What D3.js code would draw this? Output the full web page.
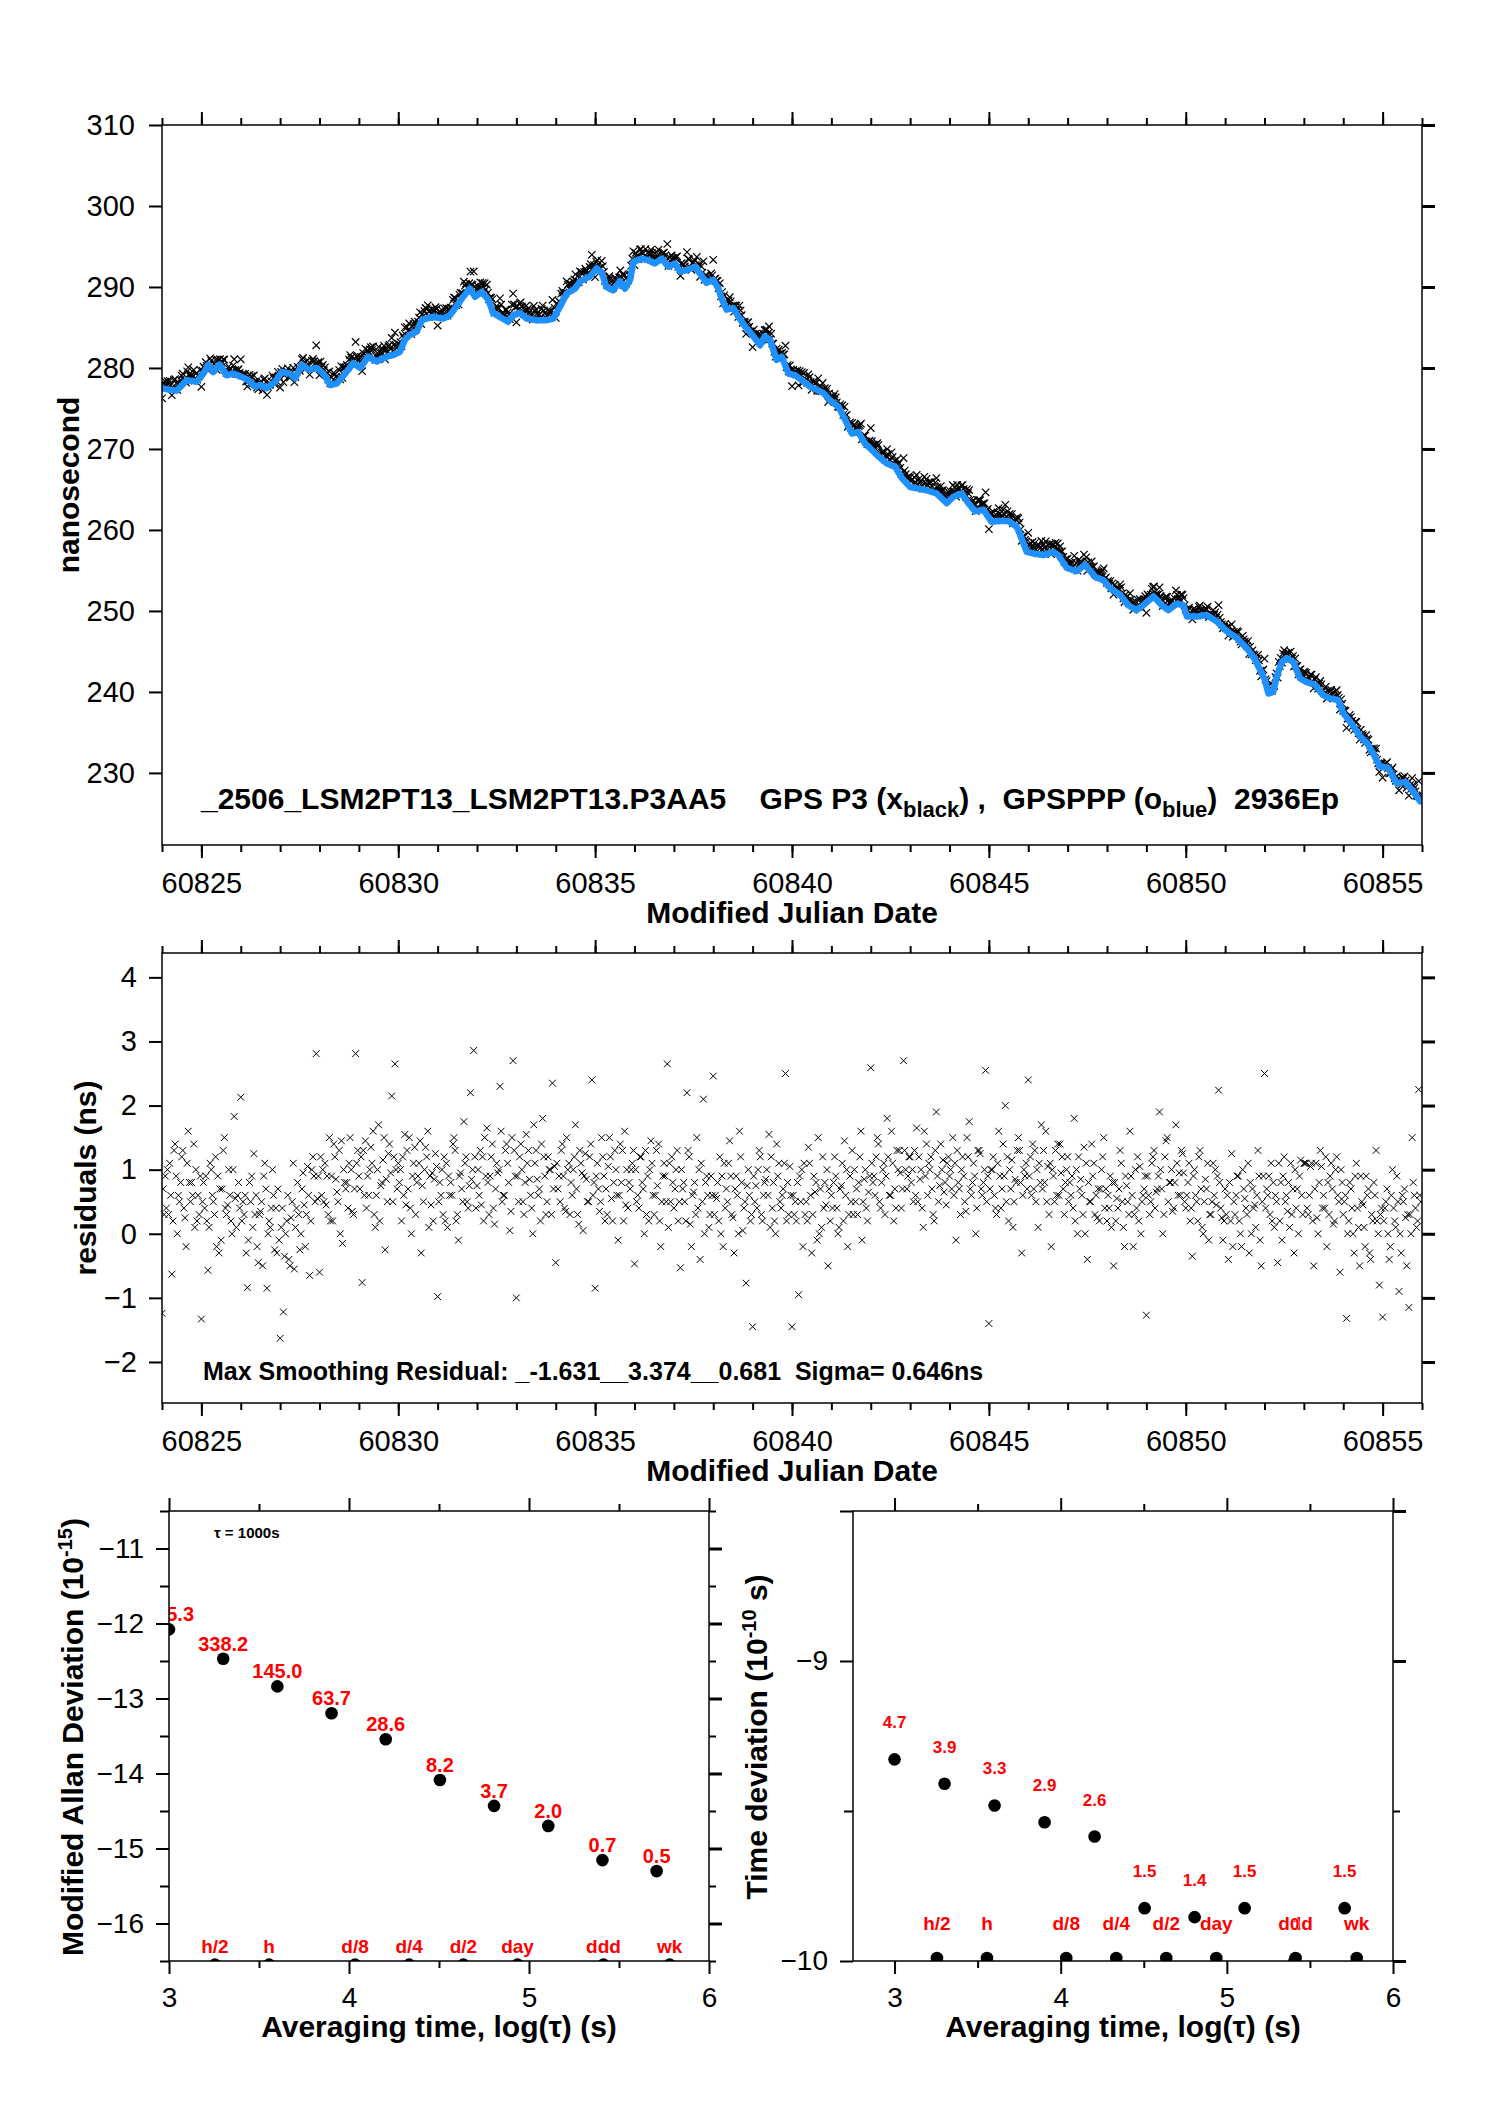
<!DOCTYPE html>
<html>
<head>
<meta charset="utf-8">
<script src="https://cdn.jsdelivr.net/npm/d3@7"></script>
<style>
  body { margin: 0; background: #fff; }
</style>
</head>
<body>
<div id="chart"></div>
<script>
var W = 1488, H = 2105;
var font = '"Liberation Sans", Arial, Helvetica, sans-serif';

// ---------------- data ----------------
var mjdStart = 60824;

// GPSPPP (blue): day offset from mjdStart, ns
var pppDay = [0.00,0.20,0.37,0.63,0.88,1.05,1.18,1.30,1.47,1.64,1.81,2.02,2.19,2.36,2.49,2.66,2.87,3.04,3.25,3.38,
  3.55,3.72,3.93,4.10,4.27,4.44,4.65,4.86,5.03,5.24,5.45,5.71,5.87,6.04,6.17,6.30,6.47,6.60,6.72,6.89,
  7.14,7.31,7.48,7.65,7.82,7.95,8.12,8.29,8.41,8.58,8.79,8.92,9.09,9.26,9.52,9.77,9.94,10.11,10.28,10.49,
  10.62,10.87,11.04,11.17,11.29,11.46,11.63,11.76,11.89,11.97,12.18,12.35,12.52,12.69,12.86,13.03,13.16,13.33,13.54,13.66,
  13.83,14.00,14.13,14.21,14.34,14.51,14.64,14.81,15.02,15.19,15.31,15.44,15.61,15.74,15.91,16.08,16.25,16.46,16.63,16.80,
  16.97,17.18,17.35,17.52,17.68,17.85,18.02,18.19,18.41,18.62,18.79,19.00,19.21,19.42,19.67,19.93,20.10,20.31,20.48,20.65,
  20.86,21.07,21.28,21.49,21.71,21.83,21.96,22.13,22.38,22.64,22.76,22.98,23.23,23.44,23.70,23.91,24.08,24.33,24.54,24.75,
  24.92,25.18,25.39,25.56,25.77,25.94,26.03,26.28,26.53,26.79,27.04,27.29,27.55,27.76,27.89,28.01,28.10,28.22,28.31,28.44,
  28.56,28.73,28.90,29.07,29.28,29.49,29.66,29.87,30.00,30.21,30.43,30.60,30.76,30.93,31.14,31.36,31.57,31.78,31.95];
var pppNs = [277.5,277.3,277.2,278.5,278.3,279.3,280.4,279.5,280.4,279.1,279.3,278.9,278.5,277.7,277.9,277.5,278.3,279.5,279.3,278.7,
  280.4,279.8,280.0,279.3,277.9,278.1,279.3,280.6,280.0,281.4,280.8,281.4,281.6,282.0,283.5,284.1,284.5,285.9,286.1,286.3,
  286.1,286.5,287.6,288.8,289.8,288.8,289.4,288.4,286.8,286.3,285.7,286.5,286.8,286.1,285.9,285.9,286.1,287.6,289.2,289.8,
  290.7,291.3,292.3,291.7,290.0,289.6,290.7,289.8,290.9,293.1,293.5,293.3,292.9,293.5,292.5,292.9,291.9,292.1,292.5,291.7,
  290.5,290.9,289.8,288.6,287.2,287.4,286.3,285.1,283.9,282.8,283.9,283.5,281.0,281.4,279.3,279.1,278.5,277.7,277.3,276.9,
  276.0,275.2,273.6,271.9,272.1,270.7,269.9,269.1,268.2,267.8,266.4,265.3,265.1,264.9,264.5,263.3,264.1,264.5,263.3,262.3,
  262.5,261.0,261.1,261.1,260.4,259.0,257.3,257.1,256.9,257.3,256.9,255.3,254.9,255.7,254.2,253.8,252.8,252.0,250.7,250.1,
  250.7,251.8,250.7,250.1,250.9,250.7,249.3,249.3,249.5,248.7,247.5,246.7,245.4,244.0,242.7,241.5,239.8,240.0,241.9,243.7,
  244.2,243.7,241.7,241.2,240.9,239.6,239.2,239.0,237.4,236.1,234.5,233.7,232.4,230.8,230.6,228.7,228.9,227.7,226.5];

// GPS P3 residuals (middle panel), read as three interleaved sets,
// each one point every 2 hours from mjdStart (+ offset), ns; one line per day
var p3Step = 1 / 12;
var p3Resid = [
  -1.24,0.9,0.3,-0.63,1.4,0.6,1.2,0.25,1.6,0.8,0.1,0.6,
  -1.33,0.4,-0.57,1.0,0.3,0.9,-0.1,1.5,0.45,0.2,1.83,0.6,
  2.13,0.3,-0.84,0.5,1.25,-0.2,0.35,0.9,-0.85,0.1,0.6,-0.3,
  -1.63,-1.22,0.2,-0.5,1.1,0.4,-0.25,0.95,0.3,-0.65,1.2,2.81,
  -0.6,1.0,0.45,1.5,0.2,0.85,1.3,-0.15,0.7,1.1,0.35,2.81,
  0.9,-0.76,1.45,0.6,1.1,0.1,1.7,0.8,-0.25,1.25,2.15,2.65,
  1.1,0.2,1.55,0.7,0.0,1.35,0.9,-0.3,1.0,1.6,0.45,0.85,
  -0.98,0.6,1.2,0.1,0.8,1.5,0.3,0.95,1.75,0.5,2.2,2.86,
  0.75,1.3,0.2,1.65,0.9,0.4,1.1,2.3,0.6,1.4,0.05,2.7,
  -1.0,1.2,0.5,1.55,0.85,0.0,1.3,0.7,1.8,0.3,1.0,2.35,
  -0.45,0.9,1.4,0.35,1.1,0.6,1.7,0.15,0.95,1.25,0.5,2.4,
  -0.85,0.7,1.5,0.2,1.05,0.55,1.3,-0.1,0.8,1.6,0.4,1.0,
  -0.47,0.6,1.2,0.0,0.9,1.45,0.3,0.75,-0.2,1.1,2.65,0.5,
  0.4,1.3,-0.53,0.8,2.2,0.15,0.65,1.5,-0.4,2.1,0.9,0.3,
  2.46,0.55,1.2,-0.2,0.7,1.45,0.25,0.9,1.6,0.05,-0.77,0.6,
  -1.45,0.75,1.3,0.2,0.85,1.55,0.4,0.0,1.1,0.6,2.5,0.3,
  -1.45,0.5,-0.95,1.0,0.3,1.35,-0.3,0.65,1.5,0.1,0.8,-0.5,
  0.6,1.2,0.0,0.75,1.45,-0.2,0.5,1.0,0.3,1.6,0.85,0.2,
  2.59,0.9,1.5,0.4,1.1,1.8,0.6,0.2,1.3,0.95,2.7,0.7,
  1.2,0.5,1.65,0.85,0.1,1.4,1.0,0.3,1.9,0.75,1.15,0.45,
  0.9,1.5,-0.1,0.7,1.2,0.35,1.75,0.8,0.0,1.3,0.6,2.55,
  -1.4,1.0,0.4,1.6,0.7,2.0,0.2,1.15,0.85,1.5,-0.3,0.9,
  2.4,0.6,1.3,0.1,1.7,0.8,1.05,-0.2,0.5,1.4,0.95,0.3,
  1.2,0.6,1.8,0.0,0.85,1.35,-0.4,0.5,1.1,0.25,0.7,1.5,
  0.2,0.9,-0.5,0.55,1.3,0.1,0.75,1.6,-0.2,0.4,1.05,0.6,
  -1.27,0.3,1.2,0.65,1.9,0.0,1.45,0.8,0.35,1.7,0.95,1.25,
  0.4,1.1,-0.35,0.6,1.2,0.1,0.85,-0.1,0.5,1.0,2.24,0.25,
  0.7,-0.4,1.25,0.3,0.9,-0.2,0.55,1.1,0.0,0.45,1.3,-0.5,
  2.5,0.6,1.1,0.1,-0.45,0.8,1.2,0.35,1.1,-0.3,0.7,1.15,
  1.1,0.4,1.05,-0.5,0.25,1.3,0.6,-0.2,0.9,0.15,1.2,-0.6,
  0.3,-1.32,0.8,0.0,1.1,-0.5,0.45,0.9,-0.3,0.2,1.3,-0.8,
  -1.3,0.5,-0.4,1.0,0.1,-0.9,0.6,0.25,-1.15,1.5,0.4,2.25];
var p3ResidB = [
  0.7,0.4,1.1,0.2,0.9,0.5,1.3,-0.2,0.8,0.6,1.0,0.3,
  0.5,0.9,0.1,0.6,1.2,-0.3,0.7,0.4,1.0,0.0,0.55,0.8,
  0.2,0.6,-0.1,0.9,0.3,-0.45,0.5,1.1,0.0,0.4,-0.25,0.7,
  0.1,-0.35,0.6,0.25,-0.55,0.8,0.0,0.45,1.05,0.2,0.9,0.55,
  1.2,0.5,0.9,0.2,1.4,0.65,0.0,1.0,0.8,1.5,0.3,1.1,
  0.7,1.3,0.4,1.0,1.6,0.6,0.2,1.15,0.85,1.4,0.5,1.0,
  0.8,1.2,0.45,1.5,0.9,0.3,1.1,0.75,1.35,0.1,0.95,1.25,
  0.5,1.0,0.2,0.9,0.6,1.3,-0.1,0.7,1.1,0.4,0.85,1.2,
  1.0,0.45,1.5,0.8,1.2,0.15,0.95,1.6,0.6,1.1,0.35,1.3,
  0.9,1.4,0.3,1.1,0.6,1.7,0.85,0.2,1.2,0.5,1.0,0.7,
  1.1,0.5,0.9,1.5,0.3,1.0,0.7,1.3,0.05,0.85,1.2,0.6,
  0.9,0.35,1.2,0.7,1.5,0.2,1.0,0.6,1.3,0.45,0.8,1.1,
  1.0,0.4,0.8,1.3,0.2,1.1,0.6,1.4,0.5,0.9,0.1,1.2,
  0.7,0.2,1.0,0.5,1.3,-0.2,0.8,0.4,1.1,0.0,0.6,0.9,
  0.3,0.8,0.0,1.1,0.5,0.9,-0.3,0.6,1.2,0.4,0.75,0.2,
  0.9,0.4,1.2,0.6,1.0,0.1,0.8,1.4,0.5,0.7,0.2,1.05,
  0.6,0.2,0.9,-0.2,0.5,1.1,0.3,0.8,0.0,1.2,0.45,0.7,
  0.4,0.9,0.1,1.1,0.6,0.3,1.3,0.5,0.8,-0.1,1.0,0.65,
  1.1,0.6,1.4,0.8,0.3,1.2,1.6,0.7,1.0,0.4,1.3,0.9,
  0.8,1.3,0.5,1.0,1.6,0.6,1.2,0.2,0.9,1.4,0.65,1.1,
  1.0,0.6,1.3,0.3,0.9,1.5,0.7,1.1,0.4,1.25,0.8,0.5,
  0.7,1.2,0.3,0.9,1.4,0.5,1.0,0.1,0.8,1.3,0.6,1.1,
  0.9,1.4,0.5,1.1,0.7,1.6,0.3,1.0,1.3,0.6,1.2,0.8,
  0.5,0.9,0.2,1.2,0.6,0.0,0.8,1.4,0.3,0.7,1.0,0.4,
  0.6,0.1,0.8,0.4,1.1,-0.2,0.5,0.9,0.3,1.2,0.0,0.7,
  0.9,0.5,1.3,0.7,1.0,0.3,1.5,0.8,0.4,1.1,0.6,0.95,
  0.6,0.2,0.9,0.5,1.3,0.0,0.7,0.3,1.1,0.45,0.8,-0.1,
  0.3,0.8,-0.2,0.6,0.2,1.0,0.4,-0.3,0.7,0.1,0.9,0.5,
  0.4,0.9,0.2,0.6,1.1,-0.1,0.5,0.8,0.3,1.0,0.0,0.6,
  1.1,0.3,1.1,0.7,0.0,1.05,0.4,0.8,1.1,0.2,0.6,1.0,
  0.5,0.0,0.7,-0.3,0.4,0.9,0.1,0.6,-0.4,0.8,0.2,0.3,
  0.2,0.7,-0.2,0.4,0.9,0.0,0.5,-0.5,0.3,0.8,0.1,0.6];
var p3ResidC = [
  0.3,1.0,0.6,1.3,0.0,0.8,0.4,1.1,0.5,1.4,0.2,0.9,
  0.8,0.2,1.1,0.5,-0.2,0.7,1.3,0.3,0.6,1.0,0.1,0.4,
  0.5,-0.3,0.8,0.1,0.6,0.3,-0.5,0.7,0.2,1.0,0.4,-0.1,
  0.4,0.0,-0.4,0.5,0.1,0.3,0.7,-0.2,0.6,1.0,0.5,0.9,
  0.6,1.1,0.3,0.9,1.2,0.5,1.45,0.8,0.4,1.0,0.7,1.3,
  1.2,0.6,0.9,1.35,0.3,1.0,0.75,1.5,0.5,0.95,1.2,0.7,
  1.0,0.6,1.3,0.4,1.1,0.8,1.45,0.5,1.2,0.9,0.2,1.05,
  0.8,0.3,1.1,0.6,1.4,0.2,0.9,0.5,1.2,0.75,1.0,0.4,
  0.6,1.2,0.9,0.3,1.4,0.7,1.0,0.5,1.3,0.8,1.5,0.9,
  0.5,1.0,0.8,1.3,0.4,1.1,0.6,1.4,0.9,1.2,0.3,1.05,
  0.7,1.3,0.4,1.0,0.8,1.2,0.3,1.1,0.9,0.5,1.4,0.8,
  1.1,0.5,0.9,0.3,1.2,0.8,0.6,1.4,0.2,1.0,0.7,1.3,
  0.5,1.2,0.7,0.3,1.0,0.6,1.3,0.2,0.9,0.5,1.1,0.8,
  1.0,0.5,0.7,0.2,1.2,0.6,0.3,1.0,0.5,0.8,0.1,0.6,
  0.6,0.2,0.9,0.4,1.1,0.3,0.7,0.0,0.8,0.5,1.0,0.3,
  0.5,1.0,0.3,0.8,0.6,1.2,0.2,0.9,0.4,1.1,0.8,0.6,
  0.3,0.8,0.5,1.1,0.2,0.6,0.9,-0.1,0.7,0.4,1.0,0.2,
  0.8,0.4,0.7,0.2,1.0,0.9,0.3,0.7,1.2,0.5,0.4,0.9,
  0.8,1.2,0.5,1.0,0.9,0.6,1.1,0.4,1.3,0.7,1.0,1.2,
  1.0,0.6,1.2,0.4,0.9,1.1,0.7,1.3,0.5,1.0,0.8,1.2,
  0.7,1.1,0.8,1.0,0.5,1.2,0.6,0.9,1.3,0.7,1.0,0.9,
  1.0,0.6,1.1,0.4,0.9,1.2,0.7,0.5,1.3,0.8,1.0,0.7,
  1.2,0.7,1.0,0.8,1.3,0.5,1.1,0.9,0.6,1.4,0.7,1.0,
  0.8,0.4,1.0,0.7,0.3,1.1,0.5,0.9,0.6,0.2,1.2,0.7,
  0.4,0.8,0.2,0.7,0.5,0.9,0.3,0.6,1.0,0.2,0.5,0.9,
  0.6,1.1,0.4,0.9,0.7,1.2,0.5,1.0,0.8,0.6,1.3,0.5,
  0.8,0.4,1.0,0.2,0.7,0.5,1.1,0.3,0.6,0.9,0.4,0.2,
  0.6,0.2,0.5,0.9,0.0,0.7,0.3,0.8,0.4,0.6,-0.1,0.9,
  0.7,0.3,0.8,0.5,0.2,0.9,0.6,0.1,0.7,0.4,0.9,0.3,
  1.1,0.6,0.2,1.1,0.8,0.4,1.2,0.3,0.7,1.0,0.5,0.8,
  0.6,0.2,0.4,0.9,0.1,0.5,-0.2,0.7,0.3,0.6,0.0,0.4,
  0.4,0.0,0.6,0.2,0.5,-0.3,0.7,0.3,0.0,0.6,0.2,0.5];
var p3Sets = [p3Resid, p3ResidB, p3ResidC];
var p3Offset = [0, 1 / 36, 2 / 36];

var mjdMajor = [60825, 60830, 60835, 60840, 60845, 60850, 60855];
var mjdMinor = d3.range(60824, 60857);
var nsTicks = [230, 240, 250, 260, 270, 280, 290, 300, 310];
var residTicks = [-2, -1, 0, 1, 2, 3, 4];

// stability panels
var logTau = [3, 3.301, 3.602, 3.903, 4.204, 4.505, 4.806, 5.107, 5.408, 5.709];
var mdevVal = [835.3, 338.2, 145.0, 63.7, 28.6, 8.2, 3.7, 2.0, 0.7, 0.5];     // 1e-15
var mdevText = ['835.3', '338.2', '145.0', '63.7', '28.6', '8.2', '3.7', '2.0', '0.7', '0.5'];
var tdevVal = [4.7, 3.9, 3.3, 2.9, 2.6, 1.5, 1.4, 1.5, 0, 1.5];                 // 1e-10 s
var tdevText = ['4.7', '3.9', '3.3', '2.9', '2.6', '1.5', '1.4', '1.5', '0', '1.5'];
var periodName = ['h/2', 'h', 'd/8', 'd/4', 'd/2', 'day', 'ddd', 'wk'];
var periodSec = [1800, 3600, 10800, 21600, 43200, 86400, 259200, 604800];

// ---------------- svg ----------------
let svg = d3.select('#chart')
  .append('svg')
  .attr('width', W)
  .attr('height', H)
  .attr('font-family', font)
  .style('background', '#fff');

let clipN = 0;
let panel = (x0, y0, w, h) => {
  let id = 'clip' + (clipN++);
  svg.append('clipPath').attr('id', id)
    .append('rect').attr('width', w).attr('height', h);
  let g = svg.append('g').attr('transform', `translate(${x0},${y0})`);
  let inner = g.append('g').attr('clip-path', `url(#${id})`);
  return { g: g, inner: inner, w: w, h: h };
};

let noLabel = () => '';
let intFmt = d3.format('d');

let drawAxes = (p, x, y, o) => {
  let g = p.g, w = p.w, h = p.h;
  let ax = (gen, tr, vals, size, fmt, pad, thick) => {
    let a = g.append('g').attr('transform', tr)
      .call(gen.tickValues(vals).tickSize(size).tickPadding(pad || 3).tickFormat(fmt || noLabel));
    a.select('.domain').remove();
    a.attr('font-family', font).attr('font-size', o.fs);
    a.selectAll('line').attr('stroke-width', thick ? 3 : 2);
    return a;
  };
  ax(d3.axisBottom(x), `translate(0,${h})`, o.xMinor, 7);
  ax(d3.axisBottom(x), `translate(0,${h})`, o.xMajor, 13, o.xFmt, o.xPad);
  ax(d3.axisTop(x), 'translate(0,0)', o.xMinor, 7);
  ax(d3.axisTop(x), 'translate(0,0)', o.xMajor, 13);
  ax(d3.axisLeft(y), 'translate(0,0)', o.yMinor, 9);
  ax(d3.axisLeft(y), 'translate(0,0)', o.yMajor, 13, o.yFmt, o.yPad);
  ax(d3.axisRight(y), `translate(${w},0)`, o.yMinor, 7);
  ax(d3.axisRight(y), `translate(${w},0)`, o.yMajor, 13, null, 3, true);
  g.append('rect')
    .attr('width', w).attr('height', h)
    .attr('fill', 'none').attr('stroke', '#000').attr('stroke-width', 1.5);
};

let title = (x, y, txt, rot, size) => {
  let t = svg.append('text')
    .attr('transform', `translate(${x},${y})` + (rot ? ' rotate(-90)' : ''))
    .attr('text-anchor', 'middle')
    .attr('font-weight', 'bold')
    .attr('font-size', size || 30)
    .text(txt);
  return t;
};

let crossTop = 'M-3.7,-3.7L3.7,3.7M-3.7,3.7L3.7,-3.7';
let crossMid = 'M-3.4,-3.4L3.4,3.4M-3.4,3.4L3.4,-3.4';

// ---------------- top panel: time series ----------------
let pTop = panel(162, 125, 1260, 720);
let xT = d3.scaleLinear().domain([60824, 60856]).range([0, pTop.w]);
let yT = d3.scaleLinear().domain([221.1, 310]).range([pTop.h, 0]);

let pppMjd = pppDay.map(d => mjdStart + d);
let pppAt = d3.scaleLinear().domain(pppMjd).range(pppNs).clamp(true);

let p3 = [];
p3Sets.forEach((set, k) => {
  set.forEach((r, i) => {
    let t = mjdStart + i * p3Step + p3Offset[k];
    p3.push({ t: t, r: r, v: pppAt(t) + r });
  });
});

pTop.inner.selectAll('path.p3')
  .data(p3)
  .enter()
  .append('path')
  .attr('class', 'p3')
  .attr('d', crossTop)
  .attr('transform', d => `translate(${xT(d.t)},${yT(d.v)})`)
  .attr('stroke', '#000')
  .attr('stroke-width', 1.2)
  .attr('fill', 'none');

let pppLine = d3.line()
  .x((d, i) => xT(pppMjd[i]))
  .y(d => yT(d));

pTop.inner.append('path')
  .datum(pppNs)
  .attr('d', pppLine)
  .attr('fill', 'none')
  .attr('stroke', '#1e90ff')
  .attr('stroke-width', 6.5)
  .attr('stroke-linejoin', 'round')
  .attr('stroke-linecap', 'round');

drawAxes(pTop, xT, yT, {
  fs: 29, xMajor: mjdMajor, xMinor: mjdMinor, xFmt: intFmt, xPad: 14,
  yMajor: nsTicks, yMinor: [], yFmt: intFmt, yPad: 14
});

let note = svg.append('text')
  .attr('x', 201).attr('y', 809)
  .attr('font-size', 30).attr('font-weight', 'bold')
  .attr('xml:space', 'preserve')
  .style('white-space', 'pre');
note.append('tspan').text('_2506_LSM2PT13_LSM2PT13.P3AA5    GPS P3 (x');
note.append('tspan').attr('font-size', 22).attr('dy', 8).text('black');
note.append('tspan').attr('dy', -8).text(') ,  GPSPPP (o');
note.append('tspan').attr('font-size', 22).attr('dy', 8).text('blue');
note.append('tspan').attr('dy', -8).text(')  2936Ep');

title(792, 923, 'Modified Julian Date');
title(79, 485, 'nanosecond', true);

// ---------------- middle panel: residuals ----------------
let pMid = panel(162, 953, 1260, 450);
let yM = d3.scaleLinear().domain([-2.64, 4.38]).range([pMid.h, 0]);

pMid.inner.selectAll('path.res')
  .data(p3)
  .enter()
  .append('path')
  .attr('class', 'res')
  .attr('d', crossMid)
  .attr('transform', d => `translate(${xT(d.t)},${yM(d.r)})`)
  .attr('stroke', '#000')
  .attr('stroke-width', 1)
  .attr('fill', 'none');

drawAxes(pMid, xT, yM, {
  fs: 29, xMajor: mjdMajor, xMinor: mjdMinor, xFmt: intFmt, xPad: 14,
  yMajor: residTicks, yMinor: [], yFmt: intFmt, yPad: 12
});

svg.append('text')
  .attr('x', 203).attr('y', 1380)
  .attr('font-size', 25).attr('font-weight', 'bold')
  .attr('xml:space', 'preserve')
  .style('white-space', 'pre')
  .text('Max Smoothing Residual: _-1.631__3.374__0.681  Sigma= 0.646ns');

title(792, 1481, 'Modified Julian Date');
title(96, 1178, 'residuals (ns)', true);

// ---------------- bottom left: modified Allan deviation ----------------
let pL = panel(169, 1511, 540, 450);
let xL = d3.scaleLinear().domain([3, 6]).range([0, pL.w]);
let yL = d3.scaleLinear().domain([-16.5, -10.5]).range([pL.h, 0]);
let mdevY = mdevVal.map(v => Math.log10(v) - 15);
let periodX = periodSec.map(s => Math.log10(s));

let stab = (p, x, y, vals, texts, floor, dotShift, lift, valSize) => {
  p.inner.selectAll('circle.per')
    .data(periodX)
    .enter()
    .append('circle')
    .attr('class', 'per')
    .attr('cx', d => x(d))
    .attr('cy', y(floor) + dotShift)
    .attr('r', 6.3)
    .attr('fill', '#000');
  p.inner.selectAll('text.per')
    .data(periodName)
    .enter()
    .append('text')
    .attr('class', 'per')
    .attr('x', (d, i) => x(periodX[i]))
    .attr('y', y(floor) - lift)
    .attr('text-anchor', 'middle')
    .attr('font-size', 19).attr('font-weight', 'bold')
    .attr('fill', '#ff0000')
    .text(d => d);
  p.inner.selectAll('circle.val')
    .data(vals)
    .enter()
    .append('circle')
    .attr('class', 'val')
    .attr('cx', (d, i) => x(logTau[i]))
    .attr('cy', d => y(Math.max(d, floor)))
    .attr('r', 6.3)
    .attr('fill', '#000');
  p.inner.selectAll('text.val')
    .data(vals)
    .enter()
    .append('text')
    .attr('class', 'val')
    .attr('x', (d, i) => x(logTau[i]))
    .attr('y', d => y(Math.max(d, floor)) - lift)
    .attr('text-anchor', 'middle')
    .attr('font-size', valSize).attr('font-weight', 'bold')
    .attr('fill', '#ff0000')
    .attr('stroke', '#fff').attr('stroke-width', 1)
    .attr('paint-order', 'stroke')
    .text((d, i) => texts[i]);
};

stab(pL, xL, yL, mdevY, mdevText, -16.5, 3.6, 8, 20);

let halvesL = [-16.5, -15.5, -14.5, -13.5, -12.5, -11.5, -10.5];
drawAxes(pL, xL, yL, {
  fs: 28, xMajor: [3, 4, 5, 6], xMinor: [3.5, 4.5, 5.5], xFmt: intFmt, xPad: 13,
  yMajor: [-16, -15, -14, -13, -12, -11], yMinor: halvesL, yFmt: intFmt, yPad: 12
});

svg.append('text')
  .attr('x', 214).attr('y', 1538)
  .attr('font-size', 15).attr('font-weight', 'bold')
  .attr('xml:space', 'preserve')
  .style('white-space', 'pre')
  .text('τ = 1000s');

title(439, 2037, 'Averaging time, log(τ) (s)', false, 30);
let yl = title(83, 1737, 'Modified Allan Deviation (10', true);
yl.append('tspan').attr('font-size', 20).attr('dy', -11).text('-15');
yl.append('tspan').attr('dy', 11).text(')');

// ---------------- bottom right: time deviation ----------------
let pR = panel(853, 1511, 540, 450);
let xR = d3.scaleLinear().domain([2.75, 6]).range([0, pR.w]);
let yR = d3.scaleLinear().domain([-10, -8.5]).range([pR.h, 0]);
let tdevY = tdevVal.map(v => v > 0 ? Math.log10(v) - 10 : -10);

stab(pR, xR, yR, tdevY, tdevText, -10, -3, 31, 17);

drawAxes(pR, xR, yR, {
  fs: 28, xMajor: [3, 4, 5, 6], xMinor: [3.5, 4.5, 5.5], xFmt: intFmt, xPad: 13,
  yMajor: [-10, -9, -8.5], yMinor: [-9.5],
  yFmt: d => Number.isInteger(d) ? intFmt(d) : '', yPad: 12
});

title(1123, 2037, 'Averaging time, log(τ) (s)', false, 30);
let yr = title(767, 1737, 'Time deviation (10', true);
yr.append('tspan').attr('font-size', 20).attr('dy', -11).text('-10');
yr.append('tspan').attr('dy', 11).text(' s)');
</script>
</body>
</html>
